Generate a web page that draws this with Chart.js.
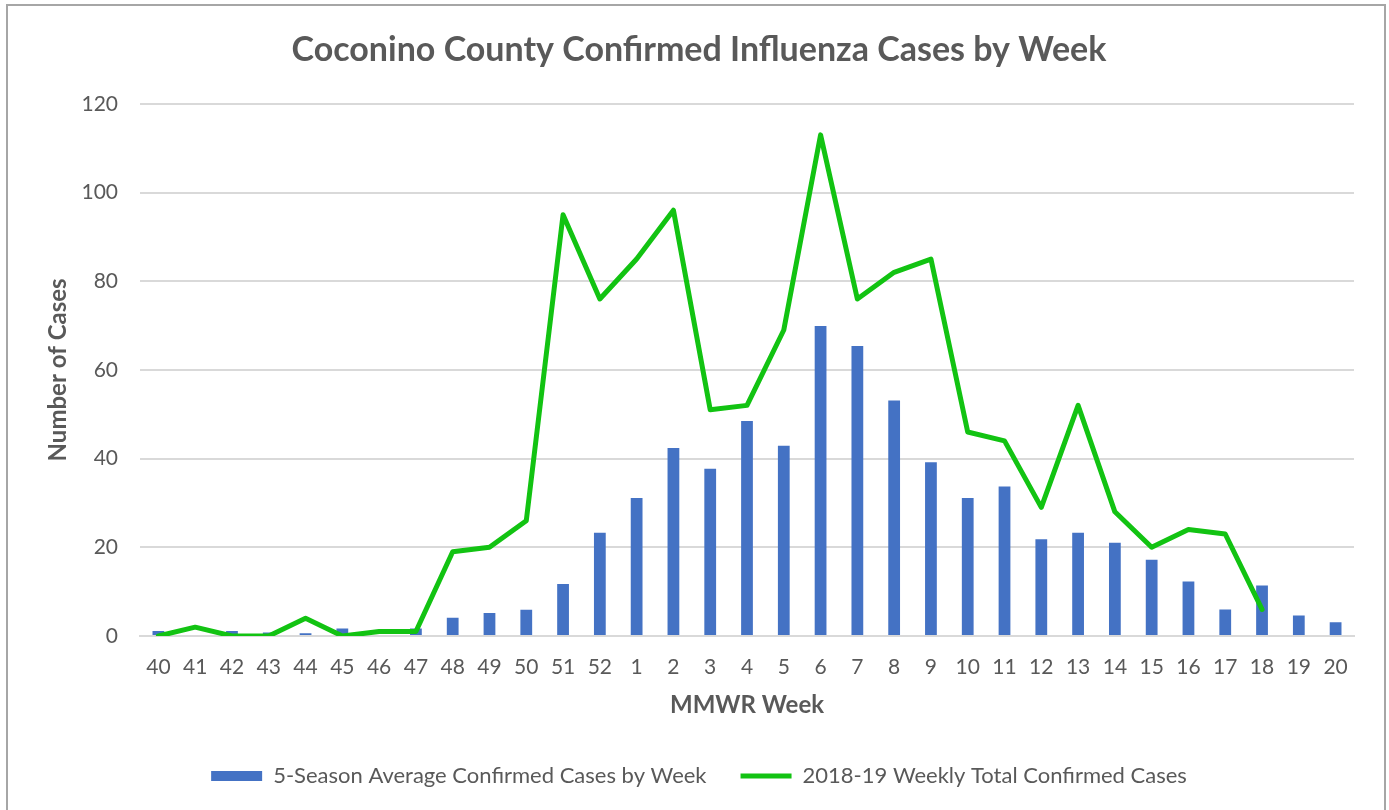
<!DOCTYPE html>
<html>
<head>
<meta charset="utf-8">
<script src="https://cdn.jsdelivr.net/npm/chart.js@4"></script>
<style>
	body { margin: 0; background: #ffffff; }
	#frame { position: absolute; left: 6px; top: 4px; width: 1376px; height: 830px; border: 2px solid #a6a6a6; pointer-events: none; }
	#holder { position: absolute; left: 0; top: 0; width: 1389px; height: 810px; }
</style>
</head>
<body>
<div id="holder"><canvas id="myChart" width="1389" height="810"></canvas></div>
<div id="frame"></div>
<script>
var weeks = ['40','41','42','43','44','45','46','47','48','49','50','51','52',
	'1','2','3','4','5','6','7','8','9','10','11','12','13','14','15','16','17','18','19','20'];

// 5-season average
var avgCases = [1.1, 0, 1.1, 0.8, 0.6, 1.7, 0, 1.7, 4.1, 5.2, 5.9, 11.7, 23.3,
	31.1, 42.4, 37.7, 48.5, 42.9, 69.9, 65.4, 53.1, 39.2, 31.1, 33.7, 21.8, 23.3, 21.0, 17.2, 12.3, 6.0, 11.4, 4.6, 3.1];

// 2018-19 season, stops at week 18
var seasonCases = [0, 2, 0, 0, 4, 0, 1, 1, 19, 20, 26, 95, 76,
	85, 96, 51, 52, 69, 113, 76, 82, 85, 46, 44, 29, 52, 28, 20, 24, 23, 6, null, null];

var yTicks = [0, 20, 40, 60, 80, 100, 120];

var textColor = '#595959';
var gridColor = '#d9d9d9';
var fontName = 'Lato';
var chart;

window.onload = function() {
	initializeChart();
};

function initializeChart(){
	const ctx = document.getElementById('myChart').getContext('2d');
	chart = new Chart(ctx, {
		type: 'bar',
		data: {
			labels: weeks,
			datasets: [{
				label: '5-Season Average Confirmed Cases by Week',
				data: avgCases,
				backgroundColor: '#4472c4',
				borderWidth: 0,
				categoryPercentage: 1.0,
				barPercentage: 0.32,
				pointStyle: 'rect',
				order: 2
			}, {
				type: 'line',
				label: '2018-19 Weekly Total Confirmed Cases',
				data: seasonCases,
				borderColor: '#12c312',
				backgroundColor: '#12c312',
				borderWidth: 5,
				pointRadius: 0,
				pointStyle: 'line',
				tension: 0,
				borderJoinStyle: 'round',
				borderCapStyle: 'round',
				spanGaps: false,
				order: 1
			}]
		},
		options: {
			responsive: false,
			animation: false,
			layout: { padding: { top: 30, right: 35, bottom: 13, left: 44 } },
			plugins: {
				title: {
					display: true,
					text: 'Coconino County Confirmed Influenza Cases by Week',
					color: textColor,
					font: { family: fontName, size: 34, weight: 'bold' },
					padding: { top: 0, bottom: 33 }
				},
				legend: {
					position: 'bottom',
					labels: {
						color: textColor,
						font: { family: fontName, size: 22 },
						usePointStyle: true,
						pointStyleWidth: 51,
						boxHeight: 10,
						padding: 34,
						sort: function(a, b) { return a.datasetIndex - b.datasetIndex; }
					}
				},
				tooltip: { enabled: false }
			},
			scales: {
				x: {
					offset: true,
					grid: { display: false },
					border: { display: true, color: gridColor, width: 2 },
					ticks: {
						color: textColor,
						font: { family: fontName, size: 21 },
						padding: 11,
						maxRotation: 0,
						autoSkip: false
					},
					title: {
						display: true,
						text: 'MMWR Week',
						color: textColor,
						font: { family: fontName, size: 24, weight: 'bold' },
						padding: { top: 0, bottom: 11 }
					}
				},
				y: {
					min: 0,
					max: 120,
					afterBuildTicks: function(scale) {
						scale.ticks = yTicks.map(function(v) { return { value: v }; });
					},
					afterFit: function(scale) { scale.width = 96; },
					grid: { color: gridColor, lineWidth: 2, drawTicks: false },
					border: { display: false },
					ticks: {
						color: textColor,
						font: { family: fontName, size: 21 },
						padding: 22
					},
					title: {
						display: true,
						text: 'Number of Cases',
						color: textColor,
						font: { family: fontName, size: 24, weight: 'bold' },
						padding: { top: 0, bottom: 0 }
					}
				}
			}
		}
	});
}
</script>
</body>
</html>
